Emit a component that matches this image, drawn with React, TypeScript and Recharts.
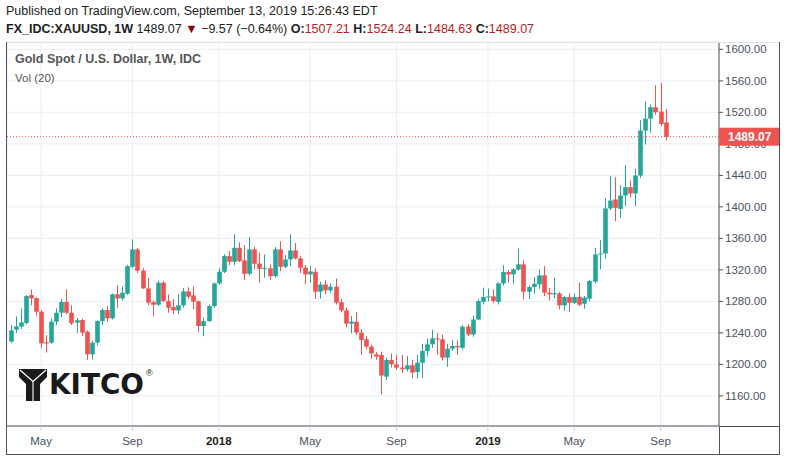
import React from "react";
import {
  ComposedChart,
  Bar,
  XAxis,
  YAxis,
  CartesianGrid,
  ReferenceLine,
} from "recharts";

// weekly bars, Mar 20 2017 .. Sep 9 2019
const opens = [
  1229, 1244, 1248, 1252.5, 1288, 1284, 1267, 1228, 1227.6, 1254.2,
  1265.6, 1279.2, 1265.6, 1253, 1256.3, 1241.5, 1212.8, 1227.6, 1255, 1269,
  1258.5, 1288.9, 1283.8, 1289.7, 1324, 1346, 1319, 1296.5, 1279, 1275.8,
  1303.7, 1280.4, 1272.8, 1268.6, 1275, 1292.7, 1287.6, 1280, 1248.7, 1255,
  1274, 1302.8, 1317.6, 1337.5, 1330.3, 1348, 1332, 1315, 1346, 1328,
  1321.5, 1321.9, 1312, 1346, 1324, 1333.3, 1344.7, 1334.6, 1322.7, 1314.2,
  1317.6, 1292.3, 1301.5, 1294, 1298.6, 1279, 1268.6, 1251.7, 1254.2, 1240.3,
  1231.8, 1222.5, 1212.8, 1212, 1184.5, 1205.6, 1200, 1195.9, 1193.8, 1198.9,
  1190.4, 1202, 1217, 1225.5, 1233, 1231.8, 1208.6, 1220, 1223.4, 1221,
  1248, 1238, 1257, 1279.6, 1285.5, 1286.4, 1279.2, 1302.9, 1317.2, 1314.3,
  1320.6, 1327, 1292.3, 1298.2, 1301.6, 1313, 1291, 1288.9, 1290, 1275,
  1285.5, 1278, 1285.5, 1277, 1283.4, 1305, 1339.6, 1340.9, 1398, 1409.4,
  1397.5, 1414.4, 1425, 1417, 1439.8, 1496.9, 1512, 1526.5, 1521, 1507.21,
];
const highs = [
  1250, 1261, 1271, 1288, 1295, 1285, 1269, 1237, 1258, 1271,
  1283, 1295.5, 1275, 1259, 1258, 1243, 1230, 1256, 1271, 1274,
  1290, 1300.7, 1299, 1326, 1358.6, 1348, 1322, 1310, 1281, 1306,
  1306, 1289, 1283, 1289, 1297, 1298, 1299, 1281, 1260, 1276,
  1304, 1322, 1340, 1344, 1365, 1355, 1351.5, 1361.6, 1349.3, 1341.7,
  1339.6, 1327, 1349, 1356.5, 1339, 1365, 1354, 1338, 1326, 1325,
  1322, 1305, 1307, 1303, 1309, 1283, 1272, 1261.4, 1266.5, 1245,
  1236, 1225, 1216, 1216, 1209, 1214, 1212, 1212, 1210.7, 1206,
  1212, 1226, 1233, 1243.7, 1240, 1238, 1226, 1231, 1230.6, 1250,
  1251, 1262, 1283, 1297.4, 1296.5, 1295.2, 1304, 1326, 1320, 1322,
  1347.2, 1332.4, 1300, 1310.9, 1320.6, 1324.8, 1297, 1310, 1292, 1287,
  1290, 1290, 1303.7, 1287, 1307.5, 1348, 1357.8, 1411, 1439, 1437.7,
  1427.5, 1452.9, 1433.5, 1448.7, 1510, 1534, 1529.8, 1554.3, 1557.3, 1524.24,
];
const lows = [
  1227, 1240, 1245, 1251, 1275, 1262, 1221, 1215, 1226, 1250,
  1260, 1264, 1250, 1240, 1236, 1205.6, 1206, 1224, 1250, 1254,
  1257, 1272, 1281, 1288, 1322, 1316, 1296, 1275, 1261, 1274,
  1279, 1265.6, 1264, 1264, 1272, 1283, 1270, 1241, 1236, 1254,
  1272, 1301, 1316, 1326, 1326, 1330, 1307, 1313, 1321, 1303.7,
  1310, 1307, 1310, 1318.5, 1322, 1324.8, 1333, 1316, 1302, 1303.7,
  1283, 1283.4, 1289, 1291, 1276, 1266, 1247, 1239.4, 1237, 1212,
  1219, 1207, 1206, 1162, 1180.3, 1196, 1193, 1189, 1191, 1182,
  1182, 1183, 1211, 1221, 1212, 1205, 1197, 1217, 1212, 1219,
  1236, 1235, 1256, 1276, 1280, 1278, 1276, 1300, 1303.7, 1302.4,
  1319, 1282.6, 1283, 1290, 1296, 1286.8, 1281, 1284, 1270, 1268,
  1266.5, 1277, 1274, 1270.7, 1280, 1303, 1320.6, 1334, 1396, 1381.9,
  1386, 1401, 1411.5, 1401, 1436.8, 1479.1, 1494, 1517, 1502.4, 1484.63,
];
const closes = [
  1243.2, 1248.3, 1253.4, 1286.8, 1283.8, 1266.9, 1226.8, 1226.5, 1254.2, 1265.6,
  1279.2, 1265.6, 1252.1, 1256, 1240.3, 1212.8, 1227.6, 1255.1, 1269, 1258.5,
  1288.9, 1283.8, 1291, 1324.8, 1346, 1319, 1296.5, 1278.3, 1275.8, 1303.7,
  1280.4, 1271.9, 1268.6, 1275, 1292.7, 1286, 1279.6, 1248.7, 1255, 1274.1,
  1302.8, 1317.6, 1337.5, 1330.3, 1348, 1331, 1315, 1346, 1327.8, 1321.5,
  1322.5, 1312, 1346, 1324, 1333.3, 1344.7, 1334.6, 1322.7, 1314.2, 1318,
  1292.3, 1301.5, 1294, 1298.6, 1278.3, 1268.6, 1251.7, 1254.2, 1240.3, 1231,
  1222.5, 1214, 1209.9, 1185.8, 1205.6, 1200.1, 1195.9, 1193.8, 1198.9, 1189.6,
  1202.2, 1217, 1225.5, 1233.1, 1231.8, 1208.6, 1220, 1223.4, 1221.7, 1248,
  1238, 1257, 1280.4, 1285.5, 1286.4, 1280.4, 1302.9, 1317.2, 1314.3, 1320.6,
  1327, 1292.3, 1298.2, 1302.4, 1313, 1291, 1288.9, 1290.5, 1275, 1285.5,
  1278.3, 1285.5, 1275.8, 1284.7, 1305.8, 1339.6, 1340.9, 1398, 1408, 1398.8,
  1414.4, 1425, 1417, 1439.8, 1496.9, 1512, 1526.5, 1520.1, 1505.3, 1489.07,
];

// month ticks (bar index of first week in month)
const xTicks = [6, 24, 41, 59, 76, 94, 111, 128];
const xLabels = ["May", "Sep", "2018", "May", "Sep", "2019", "May", "Sep"];
const yTicks = [1160, 1200, 1240, 1280, 1320, 1360, 1400, 1440, 1480, 1520, 1560, 1600];

const UP = "#26a69a";
const DOWN = "#ef5350";
const FONT = "'Liberation Sans', Arial, sans-serif";
const LAST = closes[closes.length - 1];
const X_DOMAIN = [-0.7, 139.5];
const Y_DOMAIN = [1121.8, 1609.3];

const data = opens.map((o, i) => ({
  i,
  open: o,
  high: highs[i],
  low: lows[i],
  close: closes[i],
  range: [lows[i], highs[i]],
}));

const Candle = (props: any) => {
  const { x, y, width, height, payload } = props;
  const { open, close, high, low } = payload;
  const color = close >= open ? UP : DOWN;
  const k = height / (high - low || 1);
  const cx = Math.round(x + width / 2) + 0.5;
  const top = y + (high - Math.max(open, close)) * k;
  const bot = y + (high - Math.min(open, close)) * k;
  return (
    <g>
      <line x1={cx} x2={cx} y1={y} y2={y + height} stroke={color} strokeWidth={1} />
      <rect x={cx - 2.3} y={top} width={4.6} height={Math.max(1, bot - top)} fill={color} />
    </g>
  );
};

const XTick = (props: any) => {
  const { x, y, payload } = props;
  const label = xLabels[xTicks.indexOf(payload.value)] ?? "";
  const year = label.length === 4;
  return (
    <text
      x={x}
      y={y + 12}
      textAnchor="middle"
      fontSize={11.5}
      fontFamily={FONT}
      fill={year ? "#222" : "#4c525e"}
      fontWeight={year ? 600 : 400}
    >
      {label}
    </text>
  );
};

const PriceTag = (props: any) => {
  const { viewBox } = props;
  const right = viewBox.x + viewBox.width;
  const yy = viewBox.y;
  return (
    <g>
      <rect x={right} y={yy - 9} width={60} height={18} fill={DOWN} />
      <text x={right + 9} y={yy + 4.5} fontSize={12} fontWeight={600} fontFamily={FONT} fill="#fff">
        {LAST.toFixed(2)}
      </text>
    </g>
  );
};

const Kitco = () => (
  <svg width={160} height={42} style={{ position: "absolute", left: 15, top: 365 }}>
    <path d="M4 4 L32 4 L32 12 L25 19 L25 36 L11 36 L11 19 L4 12 Z" fill="#1a1a1a" />
    <path d="M5 5 L18 16.5 L31 5" fill="none" stroke="#fff" strokeWidth={1.3} />
    <path d="M18 16.5 L18 36" fill="none" stroke="#fff" strokeWidth={1.1} />
    <text
      x={34}
      y={29}
      fontSize={29}
      fontWeight={700}
      fontFamily="'DejaVu Sans Condensed', 'DejaVu Sans', sans-serif"
      fill="#1a1a1a"
      textLength={95}
      lengthAdjust="spacingAndGlyphs"
    >
      KITCO
    </text>
    <text x={131} y={11} fontSize={9} fontFamily={FONT} fill="#1a1a1a">
      ®
    </text>
  </svg>
);

const red = { color: "#b71c1c" };
const bold = { fontWeight: 700 };
const MARGIN = { top: 42, left: 7, right: 7, bottom: 7 };

export default function App() {
  return (
    <div
      style={{
        position: "absolute",
        left: 0,
        top: 0,
        width: 786,
        height: 461,
        background: "#fff",
        fontFamily: FONT,
        overflow: "hidden",
      }}
    >
      <div style={{ position: "absolute", left: 6, top: 4, fontSize: 12.5, color: "#222", whiteSpace: "nowrap" }}>
        Published on TradingView.com, September 13, 2019 15:26:43 EDT
      </div>
      <div style={{ position: "absolute", left: 6, top: 22, fontSize: 12.5, color: "#222", whiteSpace: "nowrap" }}>
        <span style={bold}>FX_IDC:XAUUSD, 1W</span>
        <span>{"  1489.07 "}</span>
        <span style={{ color: "#8b0000" }}>▼</span>
        <span>{" −9.57 (−0.64%) "}</span>
        <span style={bold}>O:</span>
        <span style={red}>1507.21 </span>
        <span style={bold}>H:</span>
        <span style={red}>1524.24 </span>
        <span style={bold}>L:</span>
        <span style={red}>1484.63 </span>
        <span style={bold}>C:</span>
        <span style={red}>1489.07</span>
      </div>

      <div style={{ position: "absolute", left: 0, top: 0 }}>
        <ComposedChart width={786} height={461} data={data} margin={MARGIN}>
          <CartesianGrid stroke="#e9eef3" />
          <XAxis
            type="number"
            dataKey="i"
            domain={X_DOMAIN}
            ticks={xTicks}
            allowDataOverflow
            height={28}
            tick={<XTick />}
            tickSize={5}
            tickLine={{ stroke: "#c9d0d8" }}
            axisLine={{ stroke: "#50535e" }}
          />
          <YAxis
            orientation="right"
            type="number"
            domain={Y_DOMAIN}
            ticks={yTicks}
            allowDataOverflow
            width={60}
            tickSize={4}
            tickFormatter={(v: number) => v.toFixed(2)}
            tick={{ fontSize: 11.5, fill: "#4c525e", fontFamily: FONT }}
            tickLine={{ stroke: "#50535e" }}
            axisLine={{ stroke: "#50535e" }}
          />
          <ReferenceLine y={LAST} stroke={DOWN} strokeDasharray="1 2" />
          <Bar dataKey="range" barSize={5} shape={<Candle />} isAnimationActive={false} />
        </ComposedChart>
      </div>

      {/* overlay so the last-price tag sits above the axis labels */}
      <div style={{ position: "absolute", left: 0, top: 0, pointerEvents: "none" }}>
        <ComposedChart
          width={786}
          height={461}
          data={data}
          margin={{ top: 42, left: 7, right: 67, bottom: 35 }}
        >
          <XAxis type="number" dataKey="i" domain={X_DOMAIN} hide allowDataOverflow />
          <YAxis type="number" domain={Y_DOMAIN} hide allowDataOverflow />
          <ReferenceLine y={LAST} stroke="none" label={<PriceTag />} />
        </ComposedChart>
      </div>

      {/* frame */}
      <svg width={786} height={461} style={{ position: "absolute", left: 0, top: 0, pointerEvents: "none" }}>
        <line x1={6} x2={780} y1={42.5} y2={42.5} stroke="#dfe3ea" />
        <line x1={6.5} x2={6.5} y1={42} y2={455} stroke="#50535e" />
        <line x1={6} x2={780} y1={454.5} y2={454.5} stroke="#50535e" />
        <line x1={779.5} x2={779.5} y1={42} y2={455} stroke="#50535e" />
        <line x1={719} x2={780} y1={426.5} y2={426.5} stroke="#50535e" />
        <line x1={719.5} x2={719.5} y1={426} y2={455} stroke="#50535e" />
      </svg>

      <div style={{ position: "absolute", left: 15, top: 52, fontSize: 12.5, fontWeight: 600, color: "#555" }}>
        Gold Spot / U.S. Dollar, 1W, IDC
      </div>
      <div style={{ position: "absolute", left: 15, top: 72, fontSize: 11.5, color: "#555" }}>
        Vol (20)
      </div>
      <Kitco />
    </div>
  );
}
